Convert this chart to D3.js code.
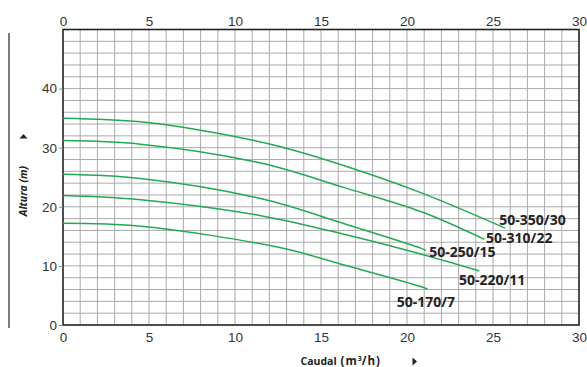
<!DOCTYPE html>
<html>
<head>
<meta charset="utf-8">
<script src="https://cdn.jsdelivr.net/npm/d3@7"></script>
<style>
  html, body { margin: 0; padding: 0; background: #fff; }
  svg { display: block; }
</style>
</head>
<body>
<svg id="chart" width="587" height="367"></svg>
<script>
// Pump performance curves: head (m) versus flow (m³/h)
const models = ["50-350/30", "50-310/22", "50-250/15", "50-220/11", "50-170/7"];

const curve350 = [[0, 35.0], [4.5, 34.4], [8.5, 32.7], [12.6, 30.2], [16.4, 26.9], [20.8, 22.4], [25.7, 16.4]];
const curve310 = [[0, 31.2], [4.5, 30.6], [11.5, 27.4], [16.4, 23.2], [20.8, 19.2], [24.5, 14.5]];
const curve250 = [[0, 25.5], [4.5, 24.8], [11.5, 21.4], [16.4, 17.1], [20.8, 13.0], [21.1, 12.6]];
const curve220 = [[0, 21.9], [4.5, 21.2], [11.5, 18.5], [16.4, 15.3], [20.8, 12.0], [24.2, 9.15]];
const curve170 = [[0, 17.2], [4.5, 16.7], [12.6, 13.1], [16.4, 10.1], [20.8, 6.5], [21.2, 6.05]];
const series = [curve350, curve310, curve250, curve220, curve170];

const xTicks = [0, 5, 10, 15, 20, 25, 30];
const yTicks = [0, 10, 20, 30, 40];

// label placement relative to each curve's last point (px)
const labelOffsets = [[-5.7, -8.3], [1.7, -1.6], [3.3, 1.0], [-20.3, 9.0], [-31, 12.4]];

const svg = d3.select("#chart");
const x = d3.scaleLinear().domain([0, 30]).range([63, 579]);
const y = d3.scaleLinear().domain([0, 50]).range([325, 29.5]);

// grid
const grid = svg.append("g").attr("stroke", "#aaa").attr("stroke-width", 1);
grid.selectAll("line.v").data(d3.range(1, 30)).join("line")
  .attr("x1", d => x(d)).attr("x2", d => x(d))
  .attr("y1", y(0)).attr("y2", y(50));
grid.selectAll("line.h").data(d3.range(2, 50, 2)).join("line")
  .attr("x1", x(0)).attr("x2", x(30))
  .attr("y1", d => y(d)).attr("y2", d => y(d));

// frame
svg.append("rect")
  .attr("x", x(0)).attr("y", y(50))
  .attr("width", x(30) - x(0)).attr("height", y(0) - y(50))
  .attr("fill", "none").attr("stroke", "#222").attr("stroke-width", 1.6);

// left rule
svg.append("line").attr("x1", 9).attr("x2", 9).attr("y1", 33).attr("y2", 328)
  .attr("stroke", "#444").attr("stroke-width", 1.4);

// axes
const tickFont = "'Liberation Sans', Arial, sans-serif";
function styleAxis(g) {
  g.select(".domain").remove();
  g.selectAll("text").attr("font-family", tickFont).attr("font-size", "13.5px").attr("fill", "#333");
}
svg.append("g").attr("transform", `translate(0,${y(50) - 4})`)
  .call(d3.axisTop(x).tickValues(xTicks).tickSize(0).tickPadding(0))
  .call(styleAxis);
svg.append("g").attr("transform", `translate(0,${y(0) + 4})`)
  .call(d3.axisBottom(x).tickValues(xTicks).tickSize(0).tickPadding(3))
  .call(styleAxis);
svg.append("g").attr("transform", `translate(${x(0)},0)`)
  .call(d3.axisLeft(y).tickValues(yTicks).tickSize(4).tickPadding(2))
  .call(styleAxis)
  .call(g => g.selectAll("line").attr("stroke", "#888"));

// curves
const line = d3.line().x(d => x(d[0])).y(d => y(d[1])).curve(d3.curveCatmullRom.alpha(0.5));
svg.append("g").selectAll("path").data(series).join("path")
  .attr("d", line)
  .attr("fill", "none").attr("stroke", "#22a951").attr("stroke-width", 1.5);

// model labels
svg.append("g").selectAll("text").data(series).join("text")
  .attr("x", (d, i) => x(d[d.length - 1][0]) + labelOffsets[i][0])
  .attr("y", (d, i) => y(d[d.length - 1][1]) + labelOffsets[i][1])
  .attr("dominant-baseline", "central")
  .attr("font-family", "'Open Sans', sans-serif").attr("font-weight", 700)
  .attr("font-size", "14px").attr("fill", "#222")
  .text((d, i) => models[i]);

// axis titles
const xt = svg.append("text").attr("y", 365)
  .attr("font-family", "'Open Sans', sans-serif").attr("font-weight", 700)
  .attr("font-size", "10.5px").attr("fill", "#222");
xt.append("tspan").attr("x", 300.5).text("Caudal");
xt.append("tspan").attr("x", 340.5).attr("font-size", "11.5px").attr("letter-spacing", "1px").text("(m");
xt.append("tspan").attr("font-size", "7px").attr("dy", -4.5).text("3");
xt.append("tspan").attr("dy", 4.5).attr("font-size", "11.5px").attr("letter-spacing", "1px").text("/h)");
svg.append("path").attr("d", "M412.5,357.5 L417,361.5 L412.5,365.5 Z").attr("fill", "#222");

svg.append("text")
  .attr("transform", "translate(27,191) rotate(-90)")
  .attr("text-anchor", "middle")
  .attr("font-family", "'Open Sans', sans-serif").attr("font-weight", 700).attr("font-style", "italic")
  .attr("font-size", "10.5px").attr("fill", "#222")
  .text("Altura (m)");
svg.append("path").attr("d", "M19.5,138.5 L23.5,134 L27.5,138.5 Z").attr("fill", "#222");
</script>
</body>
</html>
